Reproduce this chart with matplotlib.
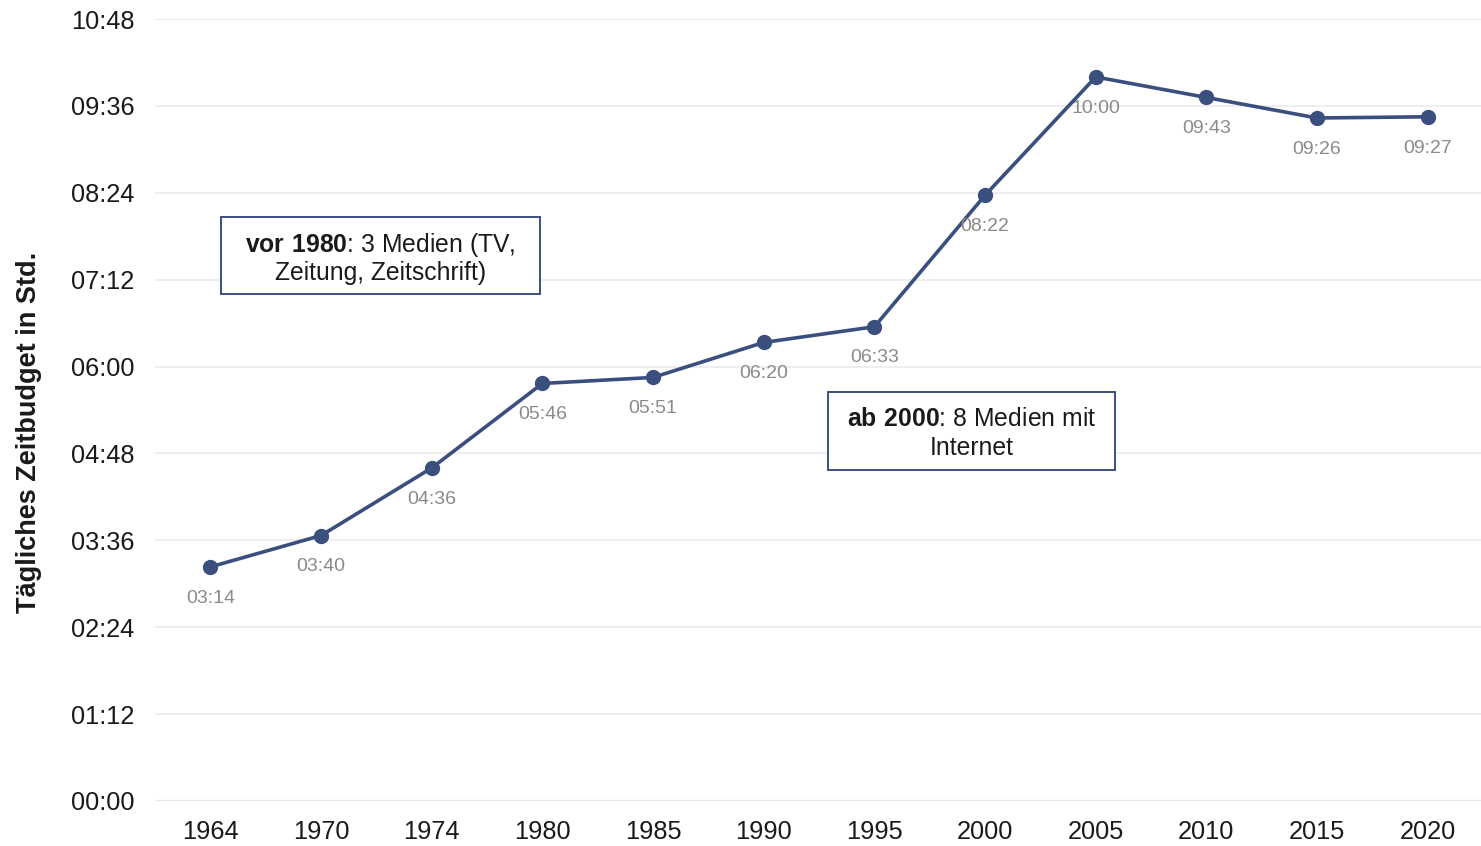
"""
    Tägliches Zeitbudget für Medien, 1964 bis 2020
"""

import matplotlib
matplotlib.use("Agg")
import matplotlib.pyplot as plt
from matplotlib.patches import Rectangle
from matplotlib.ticker import FuncFormatter, MultipleLocator

plt.rcParams["font.family"] = ["Liberation Sans", "DejaVu Sans"]
plt.rcParams["mathtext.fontset"] = "custom"
plt.rcParams["mathtext.rm"] = "Liberation Sans"
plt.rcParams["mathtext.bf"] = "Liberation Sans:bold"

years = ["1964", "1970", "1974", "1980", "1985", "1990",
         "1995", "2000", "2005", "2010", "2015", "2020"]
# Minuten pro Tag
minutes = [194, 220, 276, 346, 351, 380, 393, 502, 600, 583, 566, 567]

line_color = "#3b4f7f"


def hhmm(value, pos=None):
    """
        Minuten als HH:MM
    """
    value = int(round(value))
    return f"{value // 60:02d}:{value % 60:02d}"


fig = plt.figure(figsize=(14.81, 8.46), dpi=100)
ax = fig.add_axes([0.1047, 0.0532, 0.8967, 0.9243])

x = list(range(len(years)))
ax.plot(x, minutes, color=line_color, linewidth=2.6, marker="o",
        markersize=10, zorder=3)

for xi, val in zip(x, minutes):
    ax.annotate(hhmm(val), (xi, val), xytext=(0, -22.5), textcoords="offset points",
                ha="center", va="center", fontsize=14, color="#8a8a8a", zorder=4)

ax.set_xlim(-0.5, len(years) - 0.5)
ax.set_ylim(0, 648)
ax.yaxis.set_major_locator(MultipleLocator(72))
ax.yaxis.set_major_formatter(FuncFormatter(hhmm))
ax.set_xticks(x)
ax.set_xticklabels(years)

ax.grid(axis="y", color="#ebebeb", linewidth=1.2, zorder=0)
ax.axhline(0, color="#d4d4d4", linewidth=1.6, zorder=1)
for side in ["top", "right", "left", "bottom"]:
    ax.spines[side].set_visible(False)
ax.tick_params(axis="both", length=0, labelsize=18.3, colors="#1a1a1a")
ax.tick_params(axis="y", pad=15)
ax.tick_params(axis="x", pad=14)

ax.set_ylabel("Tägliches Zeitbudget in Std.", fontsize=19.5, fontweight="bold",
              color="#1a1a1a")
ax.yaxis.set_label_coords(-0.085, 0.472)

# Hinweiskästen, jede Zeile einzeln gesetzt
boxes = [
    ((0.0497, 0.6483), 0.2402, 0.0985,
     ["$\\mathbf{vor\\ 1980}$: 3 Medien (TV,", "Zeitung, Zeitschrift)"]),
    ((0.5068, 0.4233), 0.2161, 0.0997,
     ["$\\mathbf{ab\\ 2000}$: 8 Medien mit", "Internet"]),
]
line_step = 0.0185
for (x0, y0), w, h, lines in boxes:
    ax.add_patch(Rectangle((x0, y0), w, h, transform=ax.transAxes,
                           facecolor="white", edgecolor=line_color,
                           linewidth=1.4, zorder=5))
    cx, cy = x0 + w / 2, y0 + h / 2
    for i, line in enumerate(lines):
        ax.text(cx, cy + line_step * (1 - 2 * i), line, transform=ax.transAxes,
                ha="center", va="center_baseline", fontsize=17.8,
                color="#1a1a1a", zorder=6)

fig.savefig("out.png", dpi=100)
